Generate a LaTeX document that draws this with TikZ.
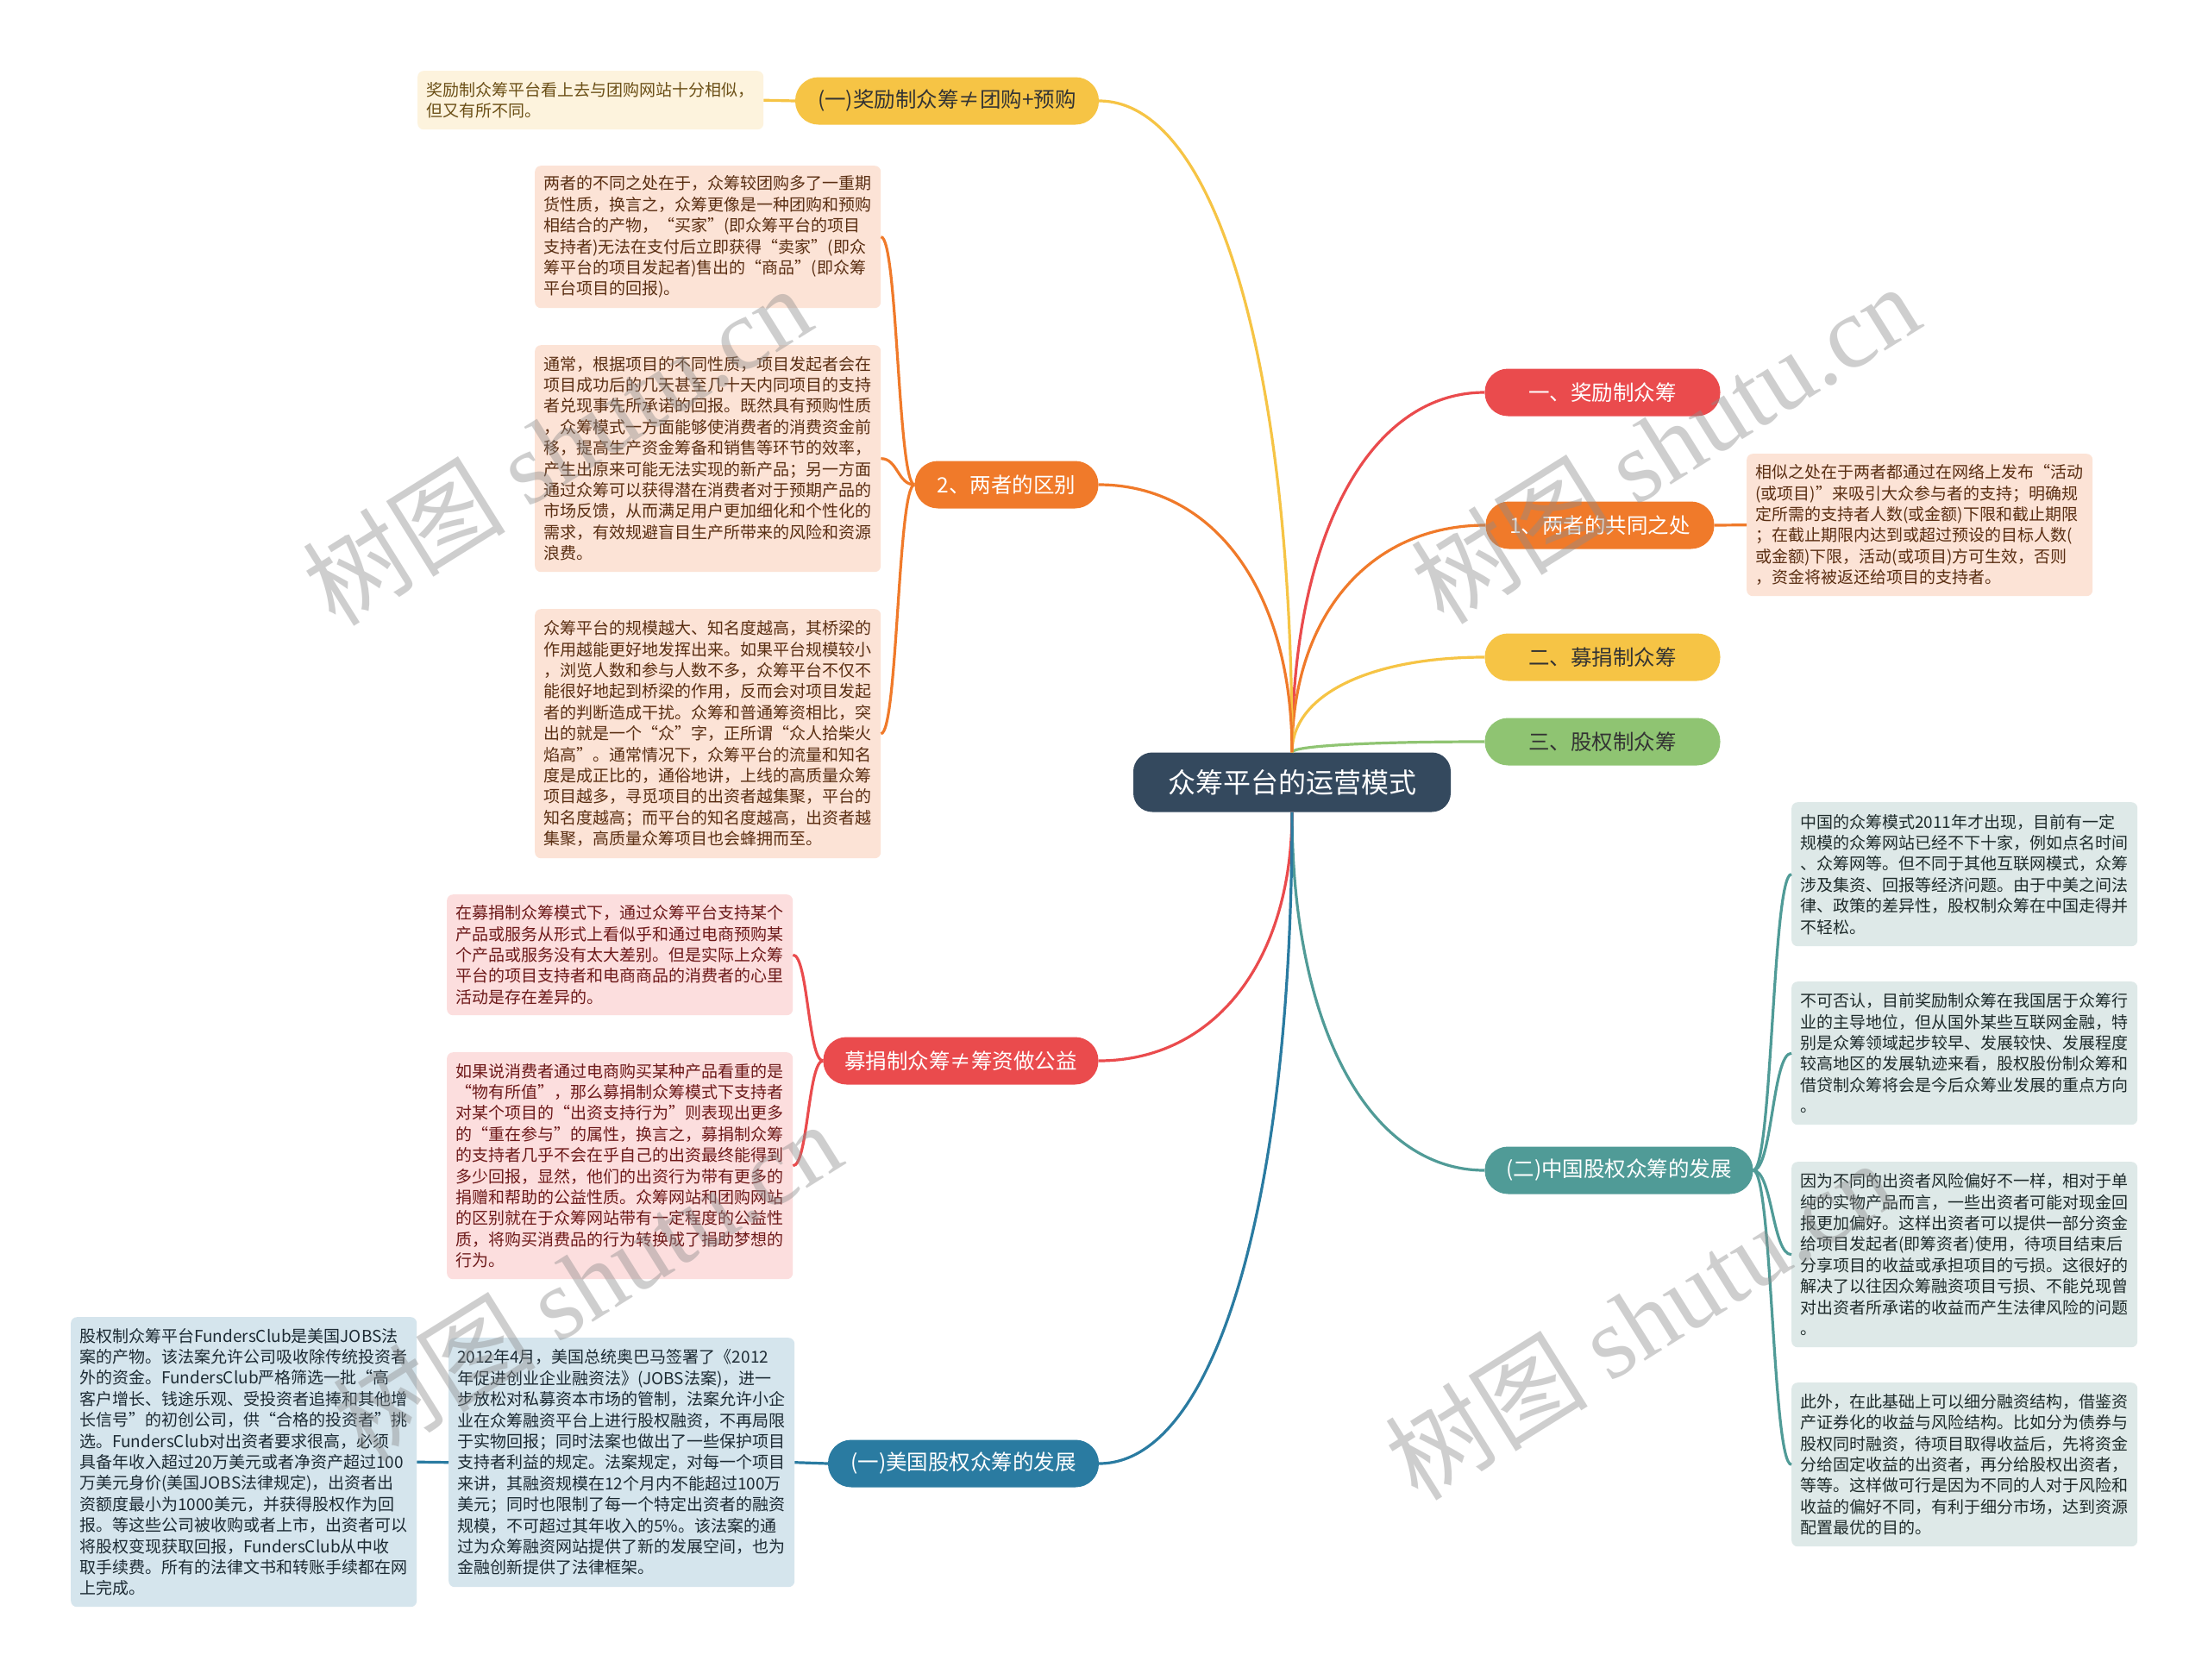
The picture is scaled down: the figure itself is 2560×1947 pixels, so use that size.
\documentclass[tikz,border=0pt]{standalone}
\usepackage{fontspec}
\setmainfont{Noto Sans CJK SC}
\newfontfamily\wmfont{Liberation Serif}
\usetikzlibrary{calc}
\definecolor{cCenter}{HTML}{34495E}
\definecolor{cRed}{HTML}{EA4B4D}
\definecolor{cOrange}{HTML}{F07A2A}
\definecolor{cYellow}{HTML}{F6C445}
\definecolor{cGreen}{HTML}{8FC472}
\definecolor{cTeal}{HTML}{509B97}
\definecolor{cBlue}{HTML}{2A7BA1}
\definecolor{fPeach}{HTML}{FCE3D6}
\definecolor{tPeach}{HTML}{5A2E12}
\definecolor{fCream}{HTML}{FDF3DD}
\definecolor{tCream}{HTML}{6B4F16}
\definecolor{fPink}{HTML}{FCDEDE}
\definecolor{tPink}{HTML}{6D1919}
\definecolor{fBlue}{HTML}{D5E5ED}
\definecolor{tBlue}{HTML}{1C2A33}
\definecolor{fGrey}{HTML}{DEE9E8}
\definecolor{tGrey}{HTML}{1E2B2B}
\definecolor{tDark}{HTML}{333333}
\newcommand\mmbr[3]{\draw[conn,#1] (#2) .. controls ($(#2)!0.6!(#2|-#3)$) and ($(#3)!0.6!(#2|-#3)$) .. (#3);}
\newcommand\mmbk[3]{\coordinate (mmm) at ($(#2)!0.5!(#3)$); \draw[conn,#1] (#2) .. controls (mmm|-#2) and (mmm|-#3) .. (#3);}
\begin{document}
\begin{tikzpicture}[x=1pt,y=-1pt,
  centernode/.style={fill=cCenter,text=white,rounded corners=22pt,minimum width=368pt,minimum height=69pt,inner sep=0pt,font=\fontsize{32}{38}\selectfont},
  bnode/.style={rounded corners=27pt,minimum height=55pt,inner sep=0pt,font=\fontsize{24.5}{29}\selectfont},
  leaf/.style={anchor=north west,inner xsep=10pt,inner ysep=0pt,rounded corners=7pt,align=left,text width=381pt,font=\fontsize{19}{24.4}\selectfont},
  conn/.style={line width=3.2pt},
  wm/.style={text=black!45,opacity=0.42,font=\fontsize{118}{120}\selectfont,inner sep=0pt}
]
\useasboundingbox[fill=white] (0,0) rectangle (2560,1947);

% center
\node[centernode] (C) at (1498,907) {众筹平台的运营模式};

% right branches
\node[bnode,fill=cRed,text=white,minimum width=273pt] (N1) at (1858,455) {一、奖励制众筹};
\node[bnode,fill=cOrange,text=white,minimum width=265pt] (N2) at (1855,609) {1、两者的共同之处};
\node[bnode,fill=cYellow,text=tDark,minimum width=273pt] (N3) at (1858,762) {二、募捐制众筹};
\node[bnode,fill=cGreen,text=tDark,minimum width=273pt] (N4) at (1858,860) {三、股权制众筹};
\node[bnode,fill=cTeal,text=white,minimum width=311pt] (N5) at (1877,1357) {(二)中国股权众筹的发展};

% left branches
\node[bnode,fill=cYellow,text=tDark,minimum width=352pt] (L1) at (1098,117) {(一)奖励制众筹≠团购+预购};
\node[bnode,fill=cOrange,text=white,minimum width=213pt] (L2) at (1167,562) {2、两者的区别};
\node[bnode,fill=cRed,text=white,minimum width=319pt] (L3) at (1114,1230) {募捐制众筹≠筹资做公益};
\node[bnode,fill=cBlue,text=white,minimum width=314pt] (L4) at (1117,1697) {(一)美国股权众筹的发展};

% leaves
\node[leaf,fill=fCream,text=tCream,minimum height=68pt] (T) at (484,82) {奖励制众筹平台看上去与团购网站十分相似，\\但又有所不同。};

\node[leaf,fill=fPeach,text=tPeach,minimum height=165pt] (B1) at (620,192) {两者的不同之处在于，众筹较团购多了一重期\\货性质，换言之，众筹更像是一种团购和预购\\相结合的产物，“买家”(即众筹平台的项目\\支持者)无法在支付后立即获得“卖家”(即众\\筹平台的项目发起者)售出的“商品”(即众筹\\平台项目的回报)。};

\node[leaf,fill=fPeach,text=tPeach,minimum height=263pt] (B2) at (620,400) {通常，根据项目的不同性质，项目发起者会在\\项目成功后的几天甚至几十天内同项目的支持\\者兑现事先所承诺的回报。既然具有预购性质\\，众筹模式一方面能够使消费者的消费资金前\\移，提高生产资金筹备和销售等环节的效率，\\产生出原来可能无法实现的新产品；另一方面\\通过众筹可以获得潜在消费者对于预期产品的\\市场反馈，从而满足用户更加细化和个性化的\\需求，有效规避盲目生产所带来的风险和资源\\浪费。};

\node[leaf,fill=fPeach,text=tPeach,minimum height=289pt] (B3) at (620,706) {众筹平台的规模越大、知名度越高，其桥梁的\\作用越能更好地发挥出来。如果平台规模较小\\，浏览人数和参与人数不多，众筹平台不仅不\\能很好地起到桥梁的作用，反而会对项目发起\\者的判断造成干扰。众筹和普通筹资相比，突\\出的就是一个“众”字，正所谓“众人拾柴火\\焰高”。通常情况下，众筹平台的流量和知名\\度是成正比的，通俗地讲，上线的高质量众筹\\项目越多，寻觅项目的出资者越集聚，平台的\\知名度越高；而平台的知名度越高，出资者越\\集聚，高质量众筹项目也会蜂拥而至。};

\node[leaf,fill=fPink,text=tPink,minimum height=140pt] (E) at (518,1037) {在募捐制众筹模式下，通过众筹平台支持某个\\产品或服务从形式上看似乎和通过电商预购某\\个产品或服务没有太大差别。但是实际上众筹\\平台的项目支持者和电商商品的消费者的心里\\活动是存在差异的。};

\node[leaf,fill=fPink,text=tPink,minimum height=263pt] (F) at (518,1220) {如果说消费者通过电商购买某种产品看重的是\\“物有所值”，那么募捐制众筹模式下支持者\\对某个项目的“出资支持行为”则表现出更多\\的“重在参与”的属性，换言之，募捐制众筹\\的支持者几乎不会在乎自己的出资最终能得到\\多少回报，显然，他们的出资行为带有更多的\\捐赠和帮助的公益性质。众筹网站和团购网站\\的区别就在于众筹网站带有一定程度的公益性\\质，将购买消费品的行为转换成了捐助梦想的\\行为。};

\node[leaf,fill=fBlue,text=tBlue,minimum height=336pt] (G) at (82,1527) {股权制众筹平台FundersClub是美国JOBS法\\案的产物。该法案允许公司吸收除传统投资者\\外的资金。FundersClub严格筛选一批“高\\客户增长、钱途乐观、受投资者追捧和其他增\\长信号”的初创公司，供“合格的投资者”挑\\选。FundersClub对出资者要求很高，必须\\具备年收入超过20万美元或者净资产超过100\\万美元身价(美国JOBS法律规定)，出资者出\\资额度最小为1000美元，并获得股权作为回\\报。等这些公司被收购或者上市，出资者可以\\将股权变现获取回报，FundersClub从中收\\取手续费。所有的法律文书和转账手续都在网\\上完成。};

\node[leaf,fill=fBlue,text=tBlue,minimum height=289pt] (H) at (520,1551) {2012年4月，美国总统奥巴马签署了《2012\\年促进创业企业融资法》(JOBS法案)，进一\\步放松对私募资本市场的管制，法案允许小企\\业在众筹融资平台上进行股权融资，不再局限\\于实物回报；同时法案也做出了一些保护项目\\支持者利益的规定。法案规定，对每一个项目\\来讲，其融资规模在12个月内不能超过100万\\美元；同时也限制了每一个特定出资者的融资\\规模，不可超过其年收入的5\%。该法案的通\\过为众筹融资网站提供了新的发展空间，也为\\金融创新提供了法律框架。};

\node[leaf,fill=fPeach,text=tPeach,minimum height=165pt] (I) at (2025,526) {相似之处在于两者都通过在网络上发布“活动\\(或项目)”来吸引大众参与者的支持；明确规\\定所需的支持者人数(或金额)下限和截止期限\\；在截止期限内达到或超过预设的目标人数(\\或金额)下限，活动(或项目)方可生效，否则\\，资金将被返还给项目的支持者。};

\node[leaf,fill=fGrey,text=tGrey,minimum height=167pt] (J1) at (2077,930) {中国的众筹模式2011年才出现，目前有一定\\规模的众筹网站已经不下十家，例如点名时间\\、众筹网等。但不同于其他互联网模式，众筹\\涉及集资、回报等经济问题。由于中美之间法\\律、政策的差异性，股权制众筹在中国走得并\\不轻松。};

\node[leaf,fill=fGrey,text=tGrey,minimum height=166pt] (J2) at (2077,1138) {不可否认，目前奖励制众筹在我国居于众筹行\\业的主导地位，但从国外某些互联网金融，特\\别是众筹领域起步较早、发展较快、发展程度\\较高地区的发展轨迹来看，股权股份制众筹和\\借贷制众筹将会是今后众筹业发展的重点方向\\。};

\node[leaf,fill=fGrey,text=tGrey,minimum height=215pt] (K) at (2077,1347) {因为不同的出资者风险偏好不一样，相对于单\\纯的实物产品而言，一些出资者可能对现金回\\报更加偏好。这样出资者可以提供一部分资金\\给项目发起者(即筹资者)使用，待项目结束后\\分享项目的收益或承担项目的亏损。这很好的\\解决了以往因众筹融资项目亏损、不能兑现曾\\对出资者所承诺的收益而产生法律风险的问题\\。};

\node[leaf,fill=fGrey,text=tGrey,minimum height=190pt] (L) at (2077,1603) {此外，在此基础上可以细分融资结构，借鉴资\\产证券化的收益与风险结构。比如分为债券与\\股权同时融资，待项目取得收益后，先将资金\\分给固定收益的出资者，再分给股权出资者，\\等等。这样做可行是因为不同的人对于风险和\\收益的偏好不同，有利于细分市场，达到资源\\配置最优的目的。};

% connectors from center
\mmbr{cRed}{C.north}{N1.west}
\mmbr{cOrange}{C.north}{N2.west}
\mmbr{cYellow}{C.north}{N3.west}
\mmbr{cGreen}{C.north}{N4.west}
\mmbr{cTeal}{C.south}{N5.west}
\mmbr{cYellow}{C.north}{L1.east}
\mmbr{cOrange}{C.north}{L2.east}
\mmbr{cRed}{C.south}{L3.east}
\mmbr{cBlue}{C.south}{L4.east}

% sub connectors
\draw[conn,cYellow] (L1.west) -- (T.east);
\mmbk{cOrange}{L2.west}{B1.east}
\mmbk{cOrange}{L2.west}{B2.east}
\mmbk{cOrange}{L2.west}{B3.east}
\mmbk{cRed}{L3.west}{E.east}
\mmbk{cRed}{L3.west}{F.east}
\draw[conn,cBlue] (L4.west) -- (H.east);
\draw[conn,cBlue] (H.west) -- (G.east);
\draw[conn,cOrange] (N2.east) -- (I.west);
\mmbk{cTeal}{N5.east}{J1.west}
\mmbk{cTeal}{N5.east}{J2.west}
\mmbk{cTeal}{N5.east}{K.west}
\mmbk{cTeal}{N5.east}{L.west}

% watermarks
\node[wm,rotate=32] (W1) at (645,516) {树图 {\wmfont shutu.cn}};
\node[wm,rotate=32] (W2) at (1930,514) {树图 {\wmfont shutu.cn}};
\node[wm,rotate=32] (W3) at (680,1485) {树图 {\wmfont shutu.cn}};
\node[wm,rotate=32] (W4) at (1900,1530) {树图 {\wmfont shutu.cn}};
\end{tikzpicture}
\end{document}
